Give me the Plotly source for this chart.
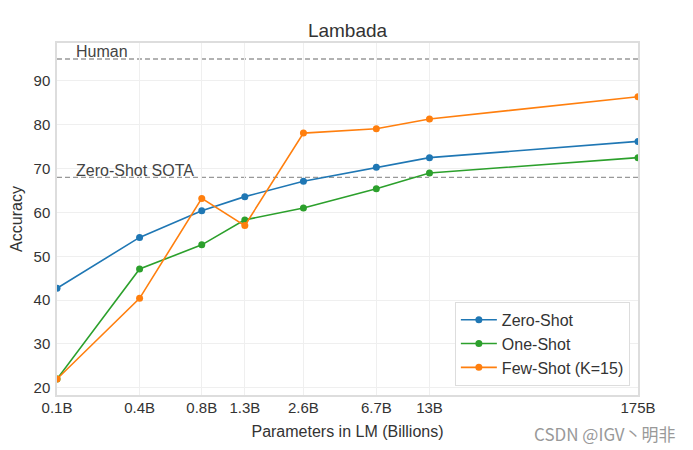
import plotly.graph_objects as go
import numpy as np

params = [0.125, 0.35, 0.76, 1.3, 2.7, 6.7, 13, 175]
tick_labels = ["0.1B", "0.4B", "0.8B", "1.3B", "2.6B", "6.7B", "13B", "175B"]
zero_shot = [42.7, 54.3, 60.4, 63.6, 67.1, 70.3, 72.5, 76.2]
one_shot = [22.0, 47.1, 52.6, 58.3, 61.0, 65.4, 69.0, 72.5]
few_shot = [22.0, 40.4, 63.2, 57.0, 78.1, 79.1, 81.3, 86.4]
human = 95.0
zero_shot_sota = 68.0
y_ticks = [20, 30, 40, 50, 60, 70, 80, 90]

FONT = "Liberation Sans, Arial, sans-serif"
TXT = "#333333"

fig = go.Figure()
for name, vals, color in [("Zero-Shot", zero_shot, "#1f77b4"),
                          ("One-Shot", one_shot, "#2ca02c"),
                          ("Few-Shot (K=15)", few_shot, "#ff7f0e")]:
    fig.add_trace(go.Scatter(x=params, y=vals, name=name, mode="lines+markers",
                             line=dict(color=color, width=1.6),
                             marker=dict(color=color, size=7)))

for yv in (human, zero_shot_sota):
    fig.add_shape(type="line", xref="paper", x0=0, x1=1, yref="y", y0=yv, y1=yv,
                  line=dict(color="#999999", width=1.3, dash="5px,3px"), layer="below")

fig.add_annotation(x=0.030, xref="paper", y=human, yref="y", text="Human",
                   showarrow=False, xanchor="left", yanchor="bottom", yshift=-3,
                   font=dict(family=FONT, size=16, color="#444444"))
fig.add_annotation(x=0.029, xref="paper", y=zero_shot_sota, yref="y", text="Zero-Shot SOTA",
                   showarrow=False, xanchor="left", yanchor="bottom", yshift=-4,
                   font=dict(family=FONT, size=16, color="#444444"))
fig.add_annotation(x=1.069, xref="paper", y=-0.108, yref="paper", text="CSDN @IGV丶明非",
                   showarrow=False, xanchor="right", yanchor="middle",
                   font=dict(family="Noto Sans CJK SC, sans-serif", size=17, color="#999999"))

fig.update_layout(
    width=693, height=450,
    margin=dict(l=49, r=63, t=35, b=63, autoexpand=False),
    paper_bgcolor="white", plot_bgcolor="white",
    title=dict(text="Lambada", x=(49 + 581 / 2) / 693, xanchor="center", y=1 - 22/450, yanchor="middle",
               font=dict(family=FONT, size=19, color=TXT)),
    font=dict(family=FONT, color=TXT),
    xaxis=dict(type="log", range=[np.log10(params[0]), np.log10(params[-1])],
               tickvals=params, ticktext=tick_labels, tickfont=dict(size=15, color=TXT),
               showgrid=True, gridcolor="#efefef", gridwidth=1, zeroline=False,
               showline=True, linecolor="#dddddd", linewidth=1.5, mirror=True,
               ticks="", ticklen=0, ticklabelstandoff=-2, automargin=False,
               title=dict(text="Parameters in LM (Billions)", font=dict(size=16, color=TXT), standoff=11)),
    yaxis=dict(range=[18.35, 98.65], tickvals=y_ticks, tickfont=dict(size=15, color=TXT),
               showgrid=True, gridcolor="#efefef", gridwidth=1, zeroline=False,
               showline=True, linecolor="#dddddd", linewidth=1.5, mirror=True,
               ticks="", ticklen=0, ticklabelstandoff=2, automargin=False,
               title=dict(text="Accuracy", font=dict(size=16, color=TXT), standoff=15)),
    legend=dict(x=0.986, xanchor="right", y=0.026, yanchor="bottom",
                bgcolor="white", bordercolor="#dddddd", borderwidth=1,
                font=dict(family=FONT, size=16, color=TXT), tracegroupgap=0,
                itemwidth=36),
    showlegend=True,
)

fig.write_html("out.html")
